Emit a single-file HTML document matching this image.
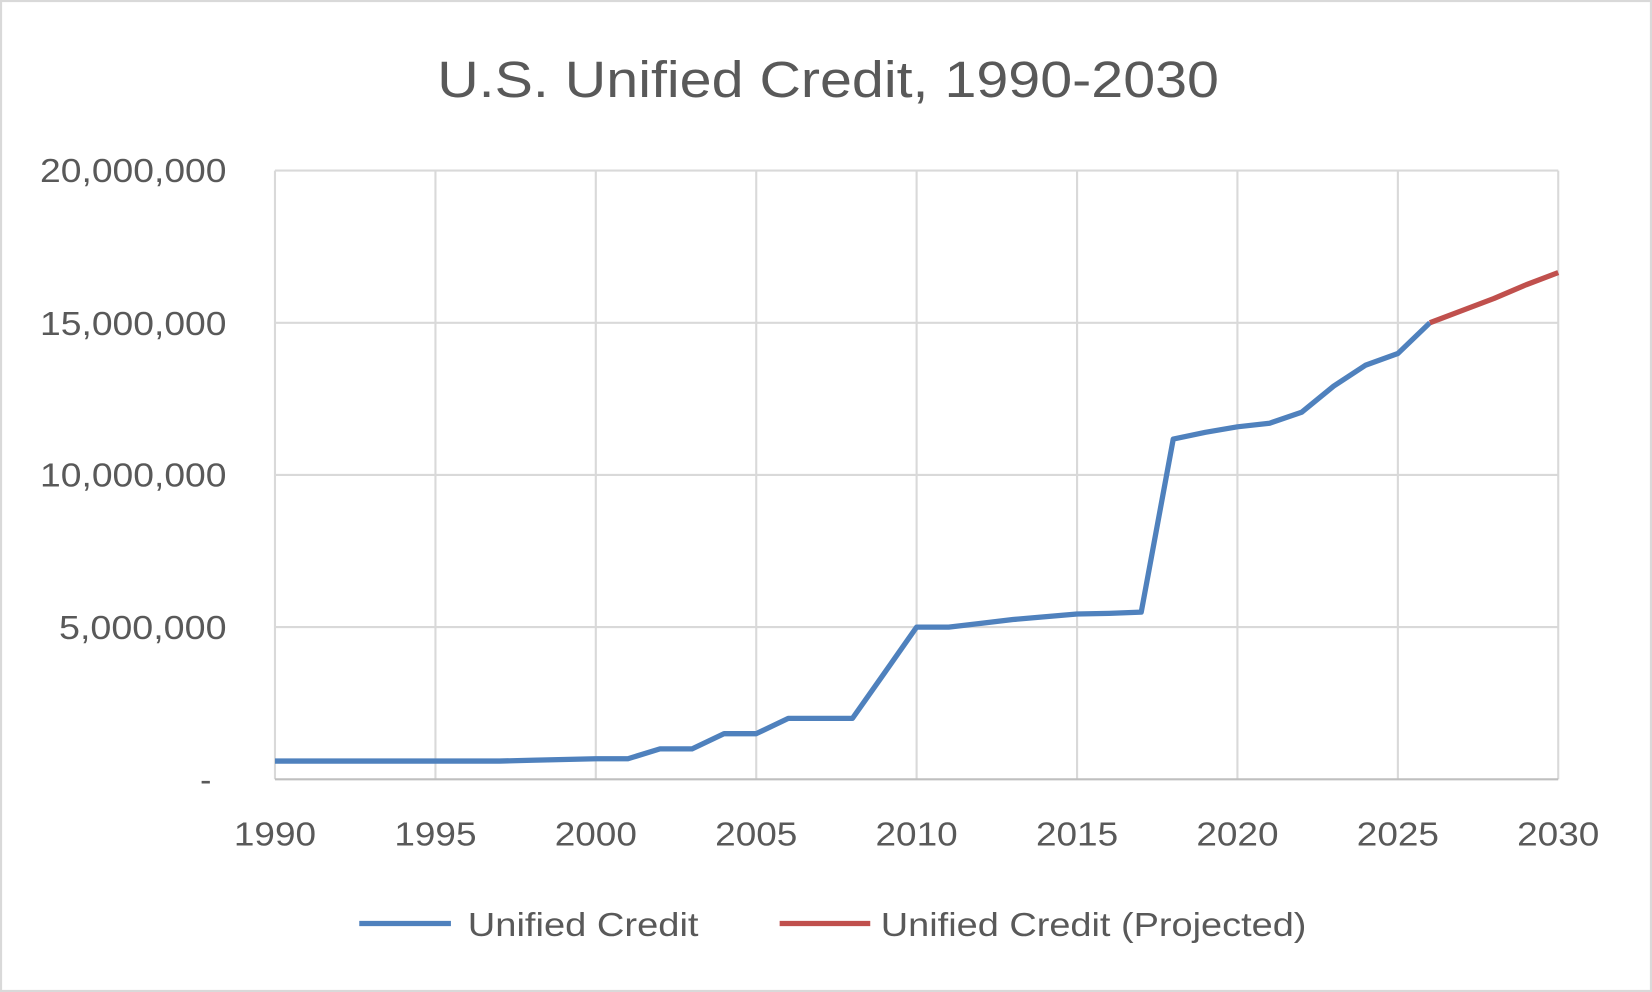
<!DOCTYPE html>
<html><head><meta charset="utf-8"><style>html,body{margin:0;padding:0;background:#fff}svg{display:block}</style></head>
<body>
<svg width="1652" height="992" viewBox="0 0 1568 942" preserveAspectRatio="none" xmlns="http://www.w3.org/2000/svg" font-family="Liberation Sans, sans-serif" fill="#595959">
<rect x="1" y="1" width="1566" height="940" fill="#fff" stroke="#d9d9d9" stroke-width="2"/>
<text x="415" y="92" font-size="48" textLength="742" lengthAdjust="spacingAndGlyphs">U.S. Unified Credit, 1990-2030</text>
<g stroke="#d9d9d9" stroke-width="2">
<line x1="261" y1="162" x2="1479" y2="162"/><line x1="261" y1="306.5" x2="1479" y2="306.5"/>
<line x1="261" y1="451" x2="1479" y2="451"/><line x1="261" y1="595.5" x2="1479" y2="595.5"/>
<line x1="261" y1="162" x2="261" y2="740"/><line x1="413.3" y1="162" x2="413.3" y2="740"/>
<line x1="565.5" y1="162" x2="565.5" y2="740"/><line x1="717.8" y1="162" x2="717.8" y2="740"/>
<line x1="870" y1="162" x2="870" y2="740"/><line x1="1022.3" y1="162" x2="1022.3" y2="740"/>
<line x1="1174.5" y1="162" x2="1174.5" y2="740"/><line x1="1326.8" y1="162" x2="1326.8" y2="740"/>
<line x1="1479" y1="162" x2="1479" y2="740"/>
</g>
<line x1="261" y1="740" x2="1479" y2="740" stroke="#bfbfbf" stroke-width="2"/>
<g font-size="32" lengthAdjust="spacingAndGlyphs">
<text x="38" y="173" textLength="177" lengthAdjust="spacingAndGlyphs">20,000,000</text>
<text x="38" y="318" textLength="177" lengthAdjust="spacingAndGlyphs">15,000,000</text>
<text x="38" y="462" textLength="177" lengthAdjust="spacingAndGlyphs">10,000,000</text>
<text x="56" y="607" textLength="159" lengthAdjust="spacingAndGlyphs">5,000,000</text>
<text x="190" y="751">-</text>
</g>
<g font-size="32">
<text x="222" y="803" textLength="78" lengthAdjust="spacingAndGlyphs">1990</text>
<text x="374.3" y="803" textLength="78" lengthAdjust="spacingAndGlyphs">1995</text>
<text x="526.5" y="803" textLength="78" lengthAdjust="spacingAndGlyphs">2000</text>
<text x="678.8" y="803" textLength="78" lengthAdjust="spacingAndGlyphs">2005</text>
<text x="831" y="803" textLength="78" lengthAdjust="spacingAndGlyphs">2010</text>
<text x="983.3" y="803" textLength="78" lengthAdjust="spacingAndGlyphs">2015</text>
<text x="1135.5" y="803" textLength="78" lengthAdjust="spacingAndGlyphs">2020</text>
<text x="1287.8" y="803" textLength="78" lengthAdjust="spacingAndGlyphs">2025</text>
<text x="1440" y="803" textLength="78" lengthAdjust="spacingAndGlyphs">2030</text>
</g>
<polyline fill="none" stroke="#4f81bd" stroke-width="5" stroke-linejoin="round" points="261,722.7 474.2,722.7 504.6,721.9 535.1,721.2 565.5,720.5 596,720.5 626.4,711.1 656.9,711.1 687.3,696.7 717.8,696.7 748.2,682.2 809.1,682.2 839.6,638.9 870,595.5 900.5,595.5 930.9,592 961.4,588.3 991.8,585.7 1022.3,583.1 1052.7,582.5 1083.2,581.3 1113.6,416.9 1144.1,410.5 1174.5,405.3 1205,401.9 1235.4,391.5 1265.9,366.6 1296.3,346.7 1326.8,335.7 1357.2,306.5"/>
<polyline fill="none" stroke="#c0504d" stroke-width="5" stroke-linejoin="round" points="1357.2,306.5 1387.7,294.9 1418.1,283.4 1448.6,270.4 1479,258.8"/>
<line x1="341" y1="877" x2="428" y2="877" stroke="#4f81bd" stroke-width="5"/>
<text x="444" y="889" font-size="32" textLength="219" lengthAdjust="spacingAndGlyphs">Unified Credit</text>
<line x1="740" y1="877" x2="826" y2="877" stroke="#c0504d" stroke-width="5"/>
<text x="836" y="889" font-size="32" textLength="404" lengthAdjust="spacingAndGlyphs">Unified Credit (Projected)</text>
</svg>
</body></html>
